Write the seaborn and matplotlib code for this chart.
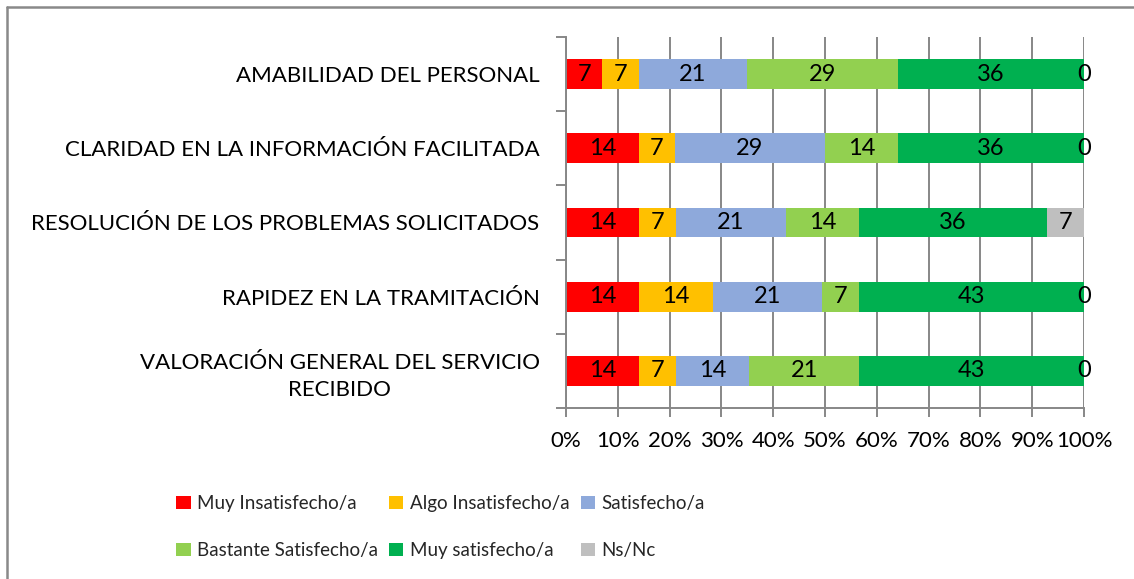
import numpy as np
import matplotlib
matplotlib.use("Agg")
import matplotlib.pyplot as plt
import seaborn as sns
from matplotlib.patches import Patch
from matplotlib.lines import Line2D

# data (percent of answers per question, as labelled in the chart)
categories = ["AMABILIDAD DEL PERSONAL",
              "CLARIDAD EN LA INFORMACIÓN FACILITADA",
              "RESOLUCIÓN DE LOS PROBLEMAS SOLICITADOS",
              "RAPIDEZ EN LA TRAMITACIÓN",
              "VALORACIÓN GENERAL DEL SERVICIO\nRECIBIDO"]
muy_insatisfecho = [7, 14, 14, 14, 14]
algo_insatisfecho = [7, 7, 7, 14, 7]
satisfecho = [21, 29, 21, 21, 14]
bastante_satisfecho = [29, 14, 14, 7, 21]
muy_satisfecho = [36, 36, 36, 43, 43]
ns_nc = [0, 0, 7, 0, 0]

series_names = ["Muy Insatisfecho/a", "Algo Insatisfecho/a", "Satisfecho/a",
                "Bastante Satisfecho/a", "Muy satisfecho/a", "Ns/Nc"]
series_colors = ["#FF0000", "#FFC000", "#8EA9DB", "#92D050", "#00B050", "#BFBFBF"]

sns.set_theme(style="white")
plt.rcParams["font.family"] = ["Lato", "DejaVu Sans"]
FONT_SIZE = 16

vals = np.array([muy_insatisfecho, algo_insatisfecho, satisfecho,
                 bastante_satisfecho, muy_satisfecho, ns_nc], dtype=float)
# 100% stacked: normalise every question to 100
pct = vals / vals.sum(axis=0) * 100
cum = np.cumsum(pct, axis=0)

fig = plt.figure(figsize=(11.34, 5.79), dpi=100)
ax = fig.add_axes([566 / 1134, 1 - 408 / 579, 518 / 1134, 371 / 579])

# draw cumulative bars from the longest to the shortest so they stack
for i in reversed(range(len(series_names))):
    sns.barplot(x=cum[i], y=categories, orient="h", color=series_colors[i],
                saturation=1, width=0.4, ax=ax, linewidth=0)

# value labels centred on each segment
for i in range(len(series_names)):
    for j in range(len(categories)):
        left = cum[i][j] - pct[i][j]
        ax.text(left + pct[i][j] / 2, j, f"{vals[i][j]:.0f}", ha="center",
                va="center", fontsize=17, color="black")

ax.set_xlim(0, 100)
ax.set_ylim(len(categories) - 0.5, -0.5)
ax.set_xticks(np.arange(0, 101, 10))
ax.set_xticklabels([f"{t}%" for t in range(0, 101, 10)])
ax.set_yticks(np.arange(-0.5, len(categories), 1), minor=True)
ax.set_xlabel("")
ax.set_ylabel("")

ax.grid(True, axis="x", color="#878787", linewidth=1.4)
ax.set_axisbelow(True)
for s in ["top", "right"]:
    ax.spines[s].set_visible(False)
for s in ["left", "bottom"]:
    ax.spines[s].set_color("#878787")
    ax.spines[s].set_linewidth(1.4)

ax.tick_params(axis="x", which="major", direction="out", length=6.5, width=1.4,
               color="#878787", pad=10, labelsize=FONT_SIZE, labelcolor="black",
               bottom=True)
ax.tick_params(axis="y", which="major", length=0, pad=19,
               labelsize=FONT_SIZE, labelcolor="black")
ax.tick_params(axis="y", which="minor", direction="out", length=7, width=1.4,
               color="#878787", left=True)
for lab in ax.get_yticklabels():
    lab.set_multialignment("center")
    lab.set_linespacing(1.45)

# legend, row-wise order for 3 columns
handles = [Patch(facecolor=c, edgecolor="none") for c in series_colors]
order = [0, 3, 1, 4, 2, 5]
fig.legend([handles[k] for k in order], [series_names[k] for k in order],
           ncol=3, loc="upper left", bbox_to_anchor=(0.149, 0.158),
           frameon=False, fontsize=13.5, handlelength=0.75,
           handleheight=0.75, handletextpad=0.35, columnspacing=0.6,
           labelspacing=1.6, borderaxespad=0)

# outer chart frame (left and top edges visible)
fig.add_artist(Line2D([7 / 1134, 7 / 1134], [0, 1 - 7 / 579],
                      color="#898989", linewidth=1.8))
fig.add_artist(Line2D([7 / 1134, 1], [1 - 7 / 579, 1 - 7 / 579],
                      color="#898989", linewidth=1.8))

fig.savefig("out.png", dpi=100)
